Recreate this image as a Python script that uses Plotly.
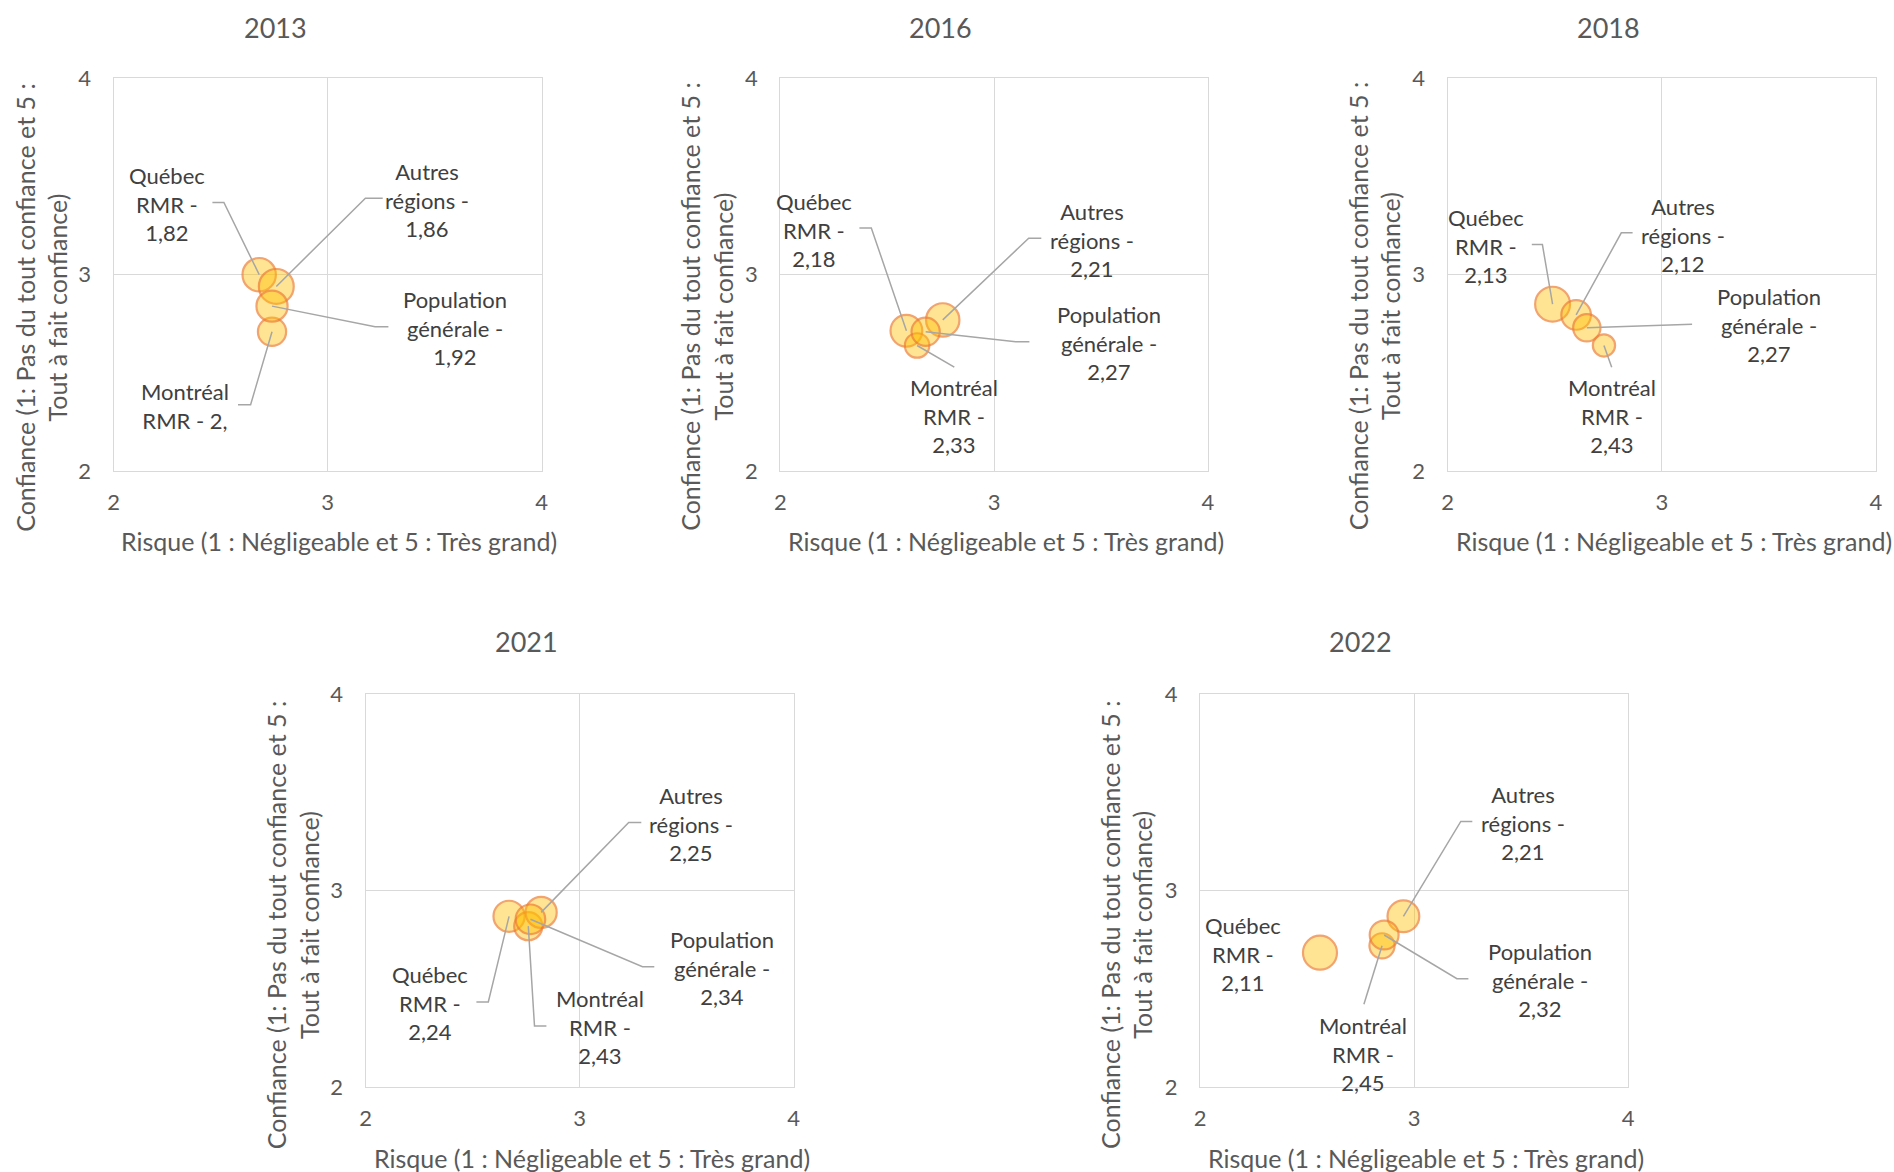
import plotly.graph_objects as go

# ---- data -------------------------------------------------------------
groupes = ["Québec RMR", "Montréal RMR", "Autres régions", "Population générale"]
annees = ["2013", "2016", "2018", "2021", "2022"]

# Risque perçu (axe x), confiance (axe y), taille de bulle, valeur affichée
risque_2013 = [2.68, 2.74, 2.76, 2.74]
confiance_2013 = [3.00, 2.71, 2.94, 2.84]
taille_2013 = [2.25, 1.61, 2.46, 1.96]
valeur_2013 = ["1,82", "2,", "1,86", "1,92"]

risque_2016 = [2.59, 2.64, 2.76, 2.68]
confiance_2016 = [2.715, 2.64, 2.77, 2.71]
taille_2016 = [2.04, 1.21, 2.25, 1.61]
valeur_2016 = ["2,18", "2,33", "2,21", "2,27"]

risque_2018 = [2.49, 2.73, 2.60, 2.65]
confiance_2018 = [2.85, 2.64, 2.795, 2.73]
taille_2018 = [2.46, 1.00, 1.77, 1.51]
valeur_2018 = ["2,13", "2,43", "2,12", "2,27"]

risque_2021 = [2.67, 2.76, 2.82, 2.77]
confiance_2021 = [2.87, 2.82, 2.89, 2.855]
taille_2021 = [1.96, 1.61, 1.96, 1.77]
valeur_2021 = ["2,24", "2,43", "2,25", "2,34"]

risque_2022 = [2.56, 2.85, 2.95, 2.86]
confiance_2022 = [2.685, 2.72, 2.87, 2.775]
taille_2022 = [2.34, 1.28, 2.04, 1.69]
valeur_2022 = ["2,11", "2,45", "2,21", "2,32"]

series = {
    "2013": (risque_2013, confiance_2013, taille_2013, valeur_2013),
    "2016": (risque_2016, confiance_2016, taille_2016, valeur_2016),
    "2018": (risque_2018, confiance_2018, taille_2018, valeur_2018),
    "2021": (risque_2021, confiance_2021, taille_2021, valeur_2021),
    "2022": (risque_2022, confiance_2022, taille_2022, valeur_2022),
}

ticks = [2, 3, 4]
titre_x = "Risque (1 : Négligeable et 5 : Très grand)"
titre_y = "Confiance (1: Pas du tout confiance et 5 :<br>Tout à fait confiance)"
lignes_nom = {
    "Québec RMR": ["Québec", "RMR -"],
    "Montréal RMR": ["Montréal", "RMR -"],
    "Autres régions": ["Autres", "régions -"],
    "Population générale": ["Population", "générale -"],
}

# ---- layout (pixels on the 1894 x 1172 page) --------------------------
W, H = 1894, 1172
FONT = "Lato, Carlito, Calibri, sans-serif"
TXT = "#404040"
GREY = "#595959"
GRID = "#D9D9D9"
LEADER = "#A6A6A6"

# plot rectangle (x0, x1, ytop, ybottom), title centre, axis-title centres,
# label placement: group -> (cx, cy, leader points, value on same line)
panneaux = [
    dict(annee="2013", rect=(113.7, 541.6, 77.9, 471.4), titre=(275.0, 27.9),
         xt=(339.3, 541.1), yt=(41.3, 307.5),
         labels={
             "Québec RMR": (166.5, 203.6, [(212.4, 202.5), (223.9, 202.5)], False),
             "Montréal RMR": (184.5, 406.3, [(238.0, 404.7), (250.6, 404.7)], True),
             "Autres régions": (426.7, 200.0, [(382.7, 198.2), (365.4, 198.2)], False),
             "Population générale": (454.6, 327.9, [(388.4, 326.8), (375.1, 326.8)], False),
         }),
    dict(annee="2016", rect=(780.3, 1207.8, 77.9, 471.4), titre=(940.9, 27.9),
         xt=(1005.7, 541.1), yt=(706.4, 306.4),
         labels={
             "Québec RMR": (814.0, 230.4, [(859.4, 227.9), (871.3, 227.9)], False),
             "Montréal RMR": (954.3, 416.0, [(954.3, 367.2)], False),
             "Autres régions": (1091.6, 240.0, [(1041.3, 238.2), (1028.7, 238.2)], False),
             "Population générale": (1109.4, 342.8, [(1029.4, 341.8), (1015.7, 341.8)], False),
         }),
    dict(annee="2018", rect=(1447.7, 1875.8, 77.9, 471.4), titre=(1608.9, 27.9),
         xt=(1673.6, 541.1), yt=(1373.9, 306.4),
         labels={
             "Québec RMR": (1485.6, 245.7, [(1531.8, 244.6), (1542.4, 244.6)], False),
             "Montréal RMR": (1611.7, 416.0, [(1611.7, 367.2)], False),
             "Autres régions": (1682.6, 234.6, [(1632.6, 232.8), (1621.3, 232.8)], False),
             "Population générale": (1768.5, 325.0, [(1692.1, 324.3)], False),
         }),
    dict(annee="2021", rect=(365.7, 793.6, 694.1, 1087.4), titre=(526.7, 641.6),
         xt=(591.9, 1158.2), yt=(292.2, 925.1),
         labels={
             "Québec RMR": (429.8, 1003.1, [(476.4, 1002.0), (488.3, 1002.0)], False),
             "Montréal RMR": (599.8, 1026.9, [(546.4, 1026.1), (534.5, 1026.1)], False),
             "Autres régions": (690.8, 823.6, [(641.3, 822.5), (628.7, 822.5)], False),
             "Population générale": (721.6, 967.8, [(654.3, 966.7), (642.5, 966.7)], False),
         }),
    dict(annee="2022", rect=(1200.2, 1628.0, 694.1, 1087.4), titre=(1360.7, 641.6),
         xt=(1425.6, 1158.2), yt=(1125.9, 925.1),
         labels={
             "Québec RMR": (1242.7, 953.9, [], False),
             "Montréal RMR": (1363.2, 1054.2, [(1363.9, 1004.2)], False),
             "Autres régions": (1522.8, 823.3, [(1472.3, 821.4), (1460.8, 821.4)], False),
             "Population générale": (1540.0, 979.5, [(1468.4, 978.7), (1456.9, 978.7)], False),
         }),
]


def px_to_data(rect, px, py):
    x0, x1, yt, yb = rect
    return 2 + 2 * (px - x0) / (x1 - x0), 2 + 2 * (yb - py) / (yb - yt)


fig = go.Figure()
annotations = []

for i, p in enumerate(panneaux):
    n = "" if i == 0 else str(i + 1)
    xref, yref = "x" + n, "y" + n
    x0, x1, yt, yb = p["rect"]
    rx, cy, tailles, valeurs = series[p["annee"]]

    common = dict(range=[2, 4], tickvals=ticks, showgrid=True, gridcolor=GRID,
                  gridwidth=1.4, zeroline=False, showline=True, linecolor=GRID,
                  linewidth=1.4, mirror=True, ticks="outside",
                  tickcolor="rgba(0,0,0,0)", automargin=False,
                  tickfont=dict(family=FONT, size=22, color=GREY),
                  fixedrange=True)
    fig.update_layout({
        "xaxis" + n: dict(domain=[x0 / W, x1 / W], anchor=yref, ticklen=11, **common),
        "yaxis" + n: dict(domain=[1 - yb / H, 1 - yt / H], anchor=xref, ticklen=17, **common),
    })

    # bubbles
    fig.add_trace(go.Scatter(
        x=rx, y=cy, mode="markers", xaxis=xref, yaxis=yref,
        marker=dict(size=tailles, sizemode="area", sizeref=0.00405,
                    color="rgba(255,192,0,0.6)",
                    line=dict(color="#ED7D31", width=2.2)),
        text=groupes, hoverinfo="text+x+y", showlegend=False,
    ))

    # data labels with leader lines
    for g, gx, gy, val in zip(groupes, rx, cy, valeurs):
        lx, ly, pts, meme_ligne = p["labels"][g]
        lignes = list(lignes_nom[g])
        if meme_ligne:
            lignes[-1] = lignes[-1] + " " + val
        else:
            lignes.append(val)
        annotations.append(dict(
            x=lx / W, y=1 - ly / H, xref="paper", yref="paper",
            text="<br>".join(lignes), showarrow=False, align="center",
            xanchor="center", yanchor="middle",
            font=dict(family=FONT, size=22, color=TXT),
        ))
        if pts:
            coords = [px_to_data(p["rect"], a, b) for a, b in pts] + [(gx, gy)]
            fig.add_trace(go.Scatter(
                x=[c[0] for c in coords], y=[c[1] for c in coords],
                mode="lines", xaxis=xref, yaxis=yref,
                line=dict(color=LEADER, width=1.5),
                hoverinfo="skip", showlegend=False,
            ))

    # panel title and axis titles
    annotations.append(dict(
        x=p["titre"][0] / W, y=1 - p["titre"][1] / H, xref="paper", yref="paper",
        text=p["annee"], showarrow=False, xanchor="center", yanchor="middle",
        font=dict(family=FONT, size=27, color=GREY),
    ))
    annotations.append(dict(
        x=p["xt"][0] / W, y=1 - p["xt"][1] / H, xref="paper", yref="paper",
        text=titre_x, showarrow=False, xanchor="center", yanchor="middle",
        font=dict(family=FONT, size=25, color=GREY),
    ))
    annotations.append(dict(
        x=p["yt"][0] / W, y=1 - p["yt"][1] / H, xref="paper", yref="paper",
        text=titre_y, showarrow=False, xanchor="center", yanchor="middle",
        textangle=-90, align="center",
        font=dict(family=FONT, size=25, color=GREY),
    ))

fig.update_layout(
    width=W, height=H,
    margin=dict(l=0, r=0, t=0, b=0, pad=0, autoexpand=False),
    paper_bgcolor="white", plot_bgcolor="white",
    annotations=annotations,
    showlegend=False,
)

fig.write_html("out.html", config={"displayModeBar": False})
